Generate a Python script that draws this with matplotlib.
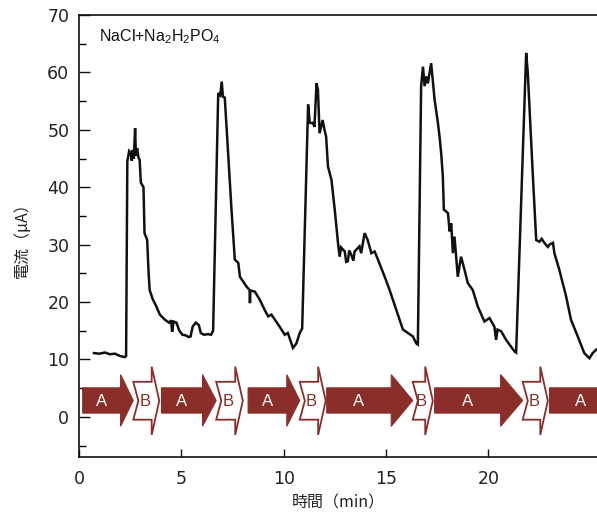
import matplotlib
matplotlib.use("Agg")
import matplotlib.pyplot as plt
from matplotlib.patches import Polygon
from matplotlib.ticker import MultipleLocator

# ---- data ----
time_min = [0.73, 1.0, 1.27, 1.5, 1.76, 2.0, 2.24, 2.30,
            2.36, 2.45, 2.52, 2.58, 2.62, 2.68, 2.74, 2.78, 2.84, 2.9, 2.96, 3.02, 3.15, 3.2, 3.33, 3.4,
            3.45, 3.6, 3.78, 3.95, 4.2, 4.4, 4.5, 4.55, 4.62, 4.76, 4.9, 5.05, 5.2, 5.35, 5.45, 5.55,
            5.7, 5.85, 5.95, 6.1, 6.3, 6.45, 6.55,
            6.8, 6.9, 6.97, 7.03, 7.12, 7.3, 7.45, 7.61, 7.78, 7.86, 8.18, 8.33, 8.35, 8.37, 8.59,
            8.83, 9.07, 9.24, 9.4, 9.8, 10.05, 10.2, 10.45, 10.62, 10.78, 10.9,
            11.19, 11.27, 11.43, 11.5, 11.6, 11.67, 11.75, 11.9, 11.99, 12.07, 12.16, 12.33, 12.49,
            12.65, 12.73, 12.8, 12.98, 13.05, 13.13, 13.2, 13.3, 13.4, 13.46, 13.7, 13.78, 13.95,
            14.1, 14.28, 14.44, 14.6, 14.93, 15.17, 15.5, 15.82, 16.07, 16.31, 16.47, 16.55,
            16.71, 16.8, 16.88, 16.97, 17.04, 17.2, 17.29, 17.37, 17.53, 17.61, 17.69, 17.77, 17.82,
            18.02, 18.1, 18.18, 18.26, 18.34, 18.5, 18.66, 18.83, 18.99, 19.23, 19.48, 19.8, 20.05,
            20.29, 20.37, 20.44, 20.62, 20.86, 21.27, 21.35,
            21.84, 21.92, 22.16, 22.33, 22.49, 22.6, 22.73, 22.9, 22.98, 23.15, 23.22, 23.46, 23.79,
            24.03, 24.36, 24.68, 24.93, 25.09, 25.26]
current_uA = [11.1, 11.0, 11.2, 10.9, 11.0, 10.6, 10.4, 10.6,
              44.5, 46.3, 46.0, 44.6, 46.5, 45.0, 50.3, 45.5, 46.8, 45.2, 44.8, 40.8, 40.0, 32.0, 30.8, 25.0,
              22.1, 20.5, 19.2, 17.8, 16.9, 16.4, 16.8, 14.8, 16.6, 16.4, 15.0, 14.3, 14.2, 13.9, 14.0, 15.7,
              16.4, 16.0, 14.6, 14.3, 14.4, 14.3, 15.0,
              56.4, 56.0, 58.4, 55.8, 55.6, 45.0, 36.0, 27.4, 26.8, 24.4, 22.7, 22.1, 19.8, 22.0, 21.8,
              20.4, 18.6, 17.5, 17.8, 15.7, 14.3, 14.6, 12.0, 12.8, 14.6, 15.4,
              54.4, 51.2, 51.2, 50.5, 58.1, 57.0, 49.4, 51.7, 50.0, 48.8, 43.6, 41.3, 36.1,
              30.3, 27.9, 29.5, 28.8, 27.0, 27.1, 29.0, 28.2, 27.2, 28.8, 29.7, 28.5, 32.0,
              30.8, 28.5, 28.8, 27.4, 24.4, 22.1, 18.6, 15.2, 14.6, 14.0, 12.8, 12.6,
              57.6, 61.0, 57.6, 59.3, 58.1, 61.6, 58.1, 55.2, 51.2, 48.8, 45.9, 41.9, 36.1,
              35.5, 32.3, 33.7, 28.5, 31.4, 24.4, 27.9, 25.6, 23.3, 22.1, 19.2, 16.6, 17.2,
              15.7, 13.4, 15.2, 14.9, 13.4, 11.4, 11.2,
              63.4, 59.9, 42.5, 30.8, 30.5, 31.0, 30.3, 29.6, 30.0, 30.3, 28.5, 25.6, 21.0,
              16.9, 14.0, 11.1, 10.2, 11.1, 11.7]

# step arrows (start, end) in minutes
a_steps = [(0.18, 2.65), (4.03, 6.70), (8.26, 10.78), (12.10, 16.30), (17.37, 21.67), (22.98, 27.5)]
b_steps = [(2.65, 3.92), (6.70, 8.00), (10.78, 12.05), (16.30, 17.28), (21.67, 22.90)]
a_label = "A"
b_label = "B"

x_ticks = [0, 5, 10, 15, 20]
y_ticks = [0, 10, 20, 30, 40, 50, 60, 70]
sample_label = r"NaCl+Na$_2$H$_2$PO$_4$"
x_label = "時間（min）"
y_label = "電流（μA）"

# ---- styling ----
plt.rcParams['font.family'] = ['Liberation Sans', 'DejaVu Sans']
plt.rcParams['mathtext.fontset'] = 'custom'
plt.rcParams['mathtext.rm'] = 'Liberation Sans'
cjk = ['Noto Sans CJK JP', 'Liberation Sans', 'DejaVu Sans']
red = '#8b2e29'

fig = plt.figure(figsize=(5.97, 5.17), dpi=100)
ax = fig.add_axes([79/597, 1-457/517, 1-79/597, (457-15)/517])
ax.set_xlim(0, 25.3)
ax.set_ylim(-7, 70)

ax.plot(time_min, current_uA, color='#111111', lw=1.8, solid_joinstyle='miter', zorder=3)

# A arrows
ac, abody, ahead = 2.85, 2.2, 4.5
for x0, x1 in a_steps:
    hl = 0.25 * (x1 - x0)
    if x1 > 26:
        hl = 1.1
    xh = x1 - hl
    pts = [(x0, ac - abody), (xh, ac - abody), (xh, ac - ahead), (x1, ac),
           (xh, ac + ahead), (xh, ac + abody), (x0, ac + abody)]
    ax.add_patch(Polygon(pts, closed=True, facecolor=red, edgecolor=red, lw=0.8, zorder=2))
    xm = min((x0 + xh) / 2, 24.5)
    ax.text(xm, ac - 0.2, a_label, color='white', ha='center', va='center', fontsize=12, zorder=4)

# B arrows
bc, bbody, bhead, notch, bhl = 2.8, 3.3, 5.95, 0.25, 0.37
for x0, x1 in b_steps:
    xh = x1 - bhl
    pts = [(x0, bc - bbody), (xh, bc - bbody), (xh, bc - bhead), (x1, bc),
           (xh, bc + bhead), (xh, bc + bbody), (x0, bc + bbody), (x0 + notch, bc)]
    ax.add_patch(Polygon(pts, closed=True, facecolor='white', edgecolor=red, lw=1.3, zorder=2))
    ax.text((x0 + notch + xh) / 2, bc - 0.2, b_label, color=red, ha='center', va='center',
            fontsize=12, zorder=4)

ax.text(1.0, 66.2, sample_label, fontsize=11.5, ha='left', va='center', color='#111111')

# axes styling
ax.spines['right'].set_visible(False)
for s in ['left', 'top', 'bottom']:
    ax.spines[s].set_linewidth(1.2)
    ax.spines[s].set_color('#111111')
ax.set_xticks(x_ticks)
ax.set_yticks(y_ticks)
ax.yaxis.set_minor_locator(MultipleLocator(5))
ax.tick_params(axis='y', which='major', direction='in', length=8, width=1.0, labelsize=13, pad=7)
ax.tick_params(axis='y', which='minor', direction='in', length=5, width=1.0)
ax.tick_params(axis='x', which='major', direction='in', length=6, width=1.0, labelsize=13, pad=9)
ax.tick_params(colors='#111111', labelcolor='#222222')
for lab in ax.get_xticklabels() + ax.get_yticklabels():
    lab.set_fontfamily('DejaVu Sans')
    lab.set_fontsize(12.5)

ax.set_xlabel(x_label, family=cjk, fontsize=11.5, labelpad=5, color='#222222')
ax.set_ylabel(y_label, family=cjk, fontsize=11.5, labelpad=12, color='#222222')

fig.savefig('out.png', dpi=100)
